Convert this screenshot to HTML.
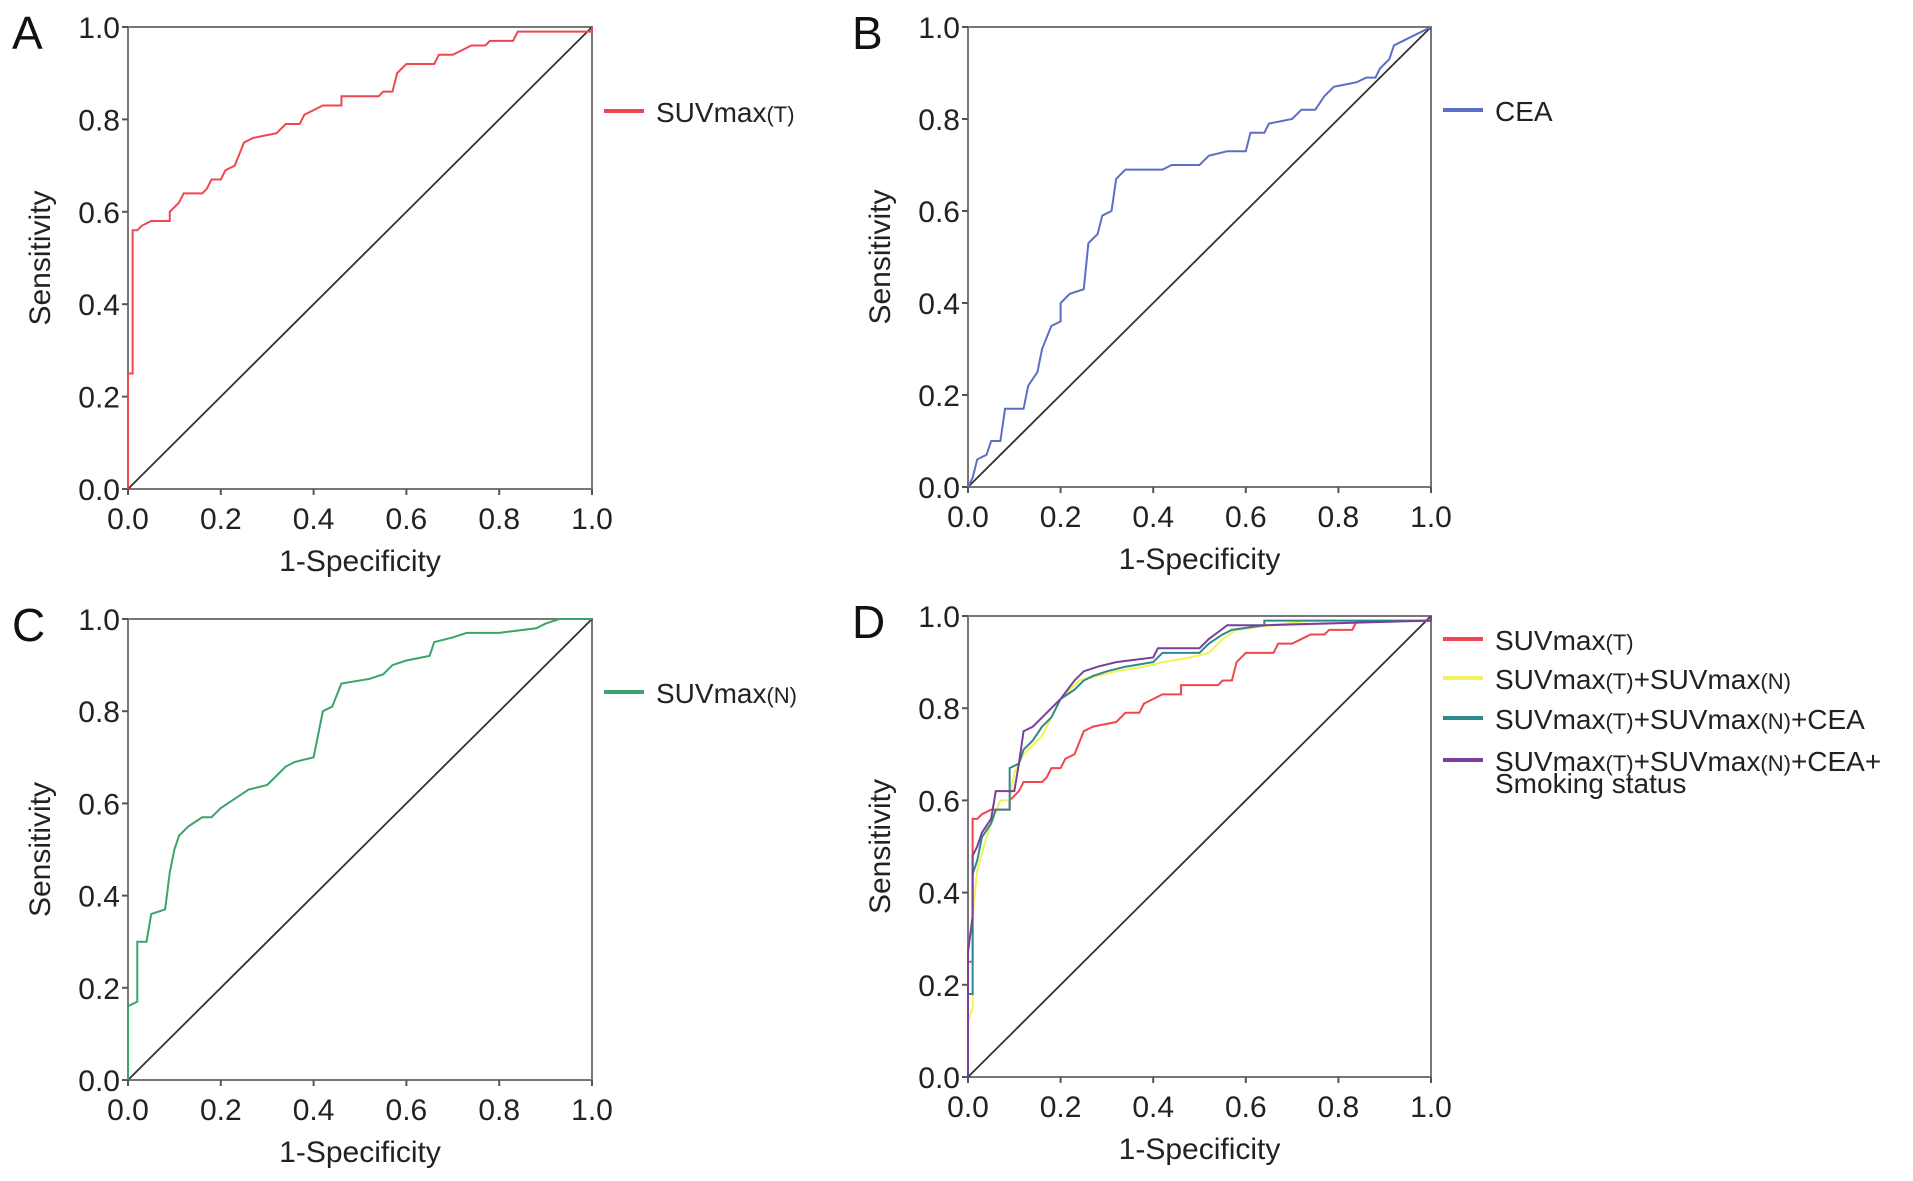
<!DOCTYPE html>
<html><head><meta charset="utf-8"><style>
html,body{margin:0;padding:0;background:#fff;}
svg{display:block;font-family:"Liberation Sans",sans-serif;}
</style></head><body>
<svg id="fig" width="1913" height="1181" viewBox="0 0 1913 1181"></svg>
<script>
const ticks=[0,0.2,0.4,0.6,0.8,1.0];
const tickLabels=["0.0","0.2","0.4","0.6","0.8","1.0"];
const rocSUVT=[[0,0],[0,0.25],[0.01,0.25],[0.01,0.56],[0.02,0.56],[0.03,0.57],[0.05,0.58],[0.09,0.58],[0.09,0.60],[0.10,0.61],[0.11,0.62],[0.12,0.64],[0.16,0.64],[0.17,0.65],[0.18,0.67],[0.20,0.67],[0.21,0.69],[0.23,0.70],[0.25,0.75],[0.27,0.76],[0.32,0.77],[0.34,0.79],[0.37,0.79],[0.38,0.81],[0.40,0.82],[0.42,0.83],[0.46,0.83],[0.46,0.85],[0.54,0.85],[0.55,0.86],[0.57,0.86],[0.58,0.90],[0.60,0.92],[0.66,0.92],[0.67,0.94],[0.70,0.94],[0.72,0.95],[0.74,0.96],[0.77,0.96],[0.78,0.97],[0.83,0.97],[0.84,0.99],[1,0.99],[1,1]];
const rocCEA=[[0,0],[0.01,0.02],[0.02,0.06],[0.04,0.07],[0.05,0.10],[0.07,0.10],[0.08,0.17],[0.12,0.17],[0.13,0.22],[0.15,0.25],[0.16,0.30],[0.18,0.35],[0.20,0.36],[0.20,0.40],[0.22,0.42],[0.25,0.43],[0.26,0.53],[0.28,0.55],[0.29,0.59],[0.31,0.60],[0.32,0.67],[0.34,0.69],[0.42,0.69],[0.44,0.70],[0.50,0.70],[0.52,0.72],[0.56,0.73],[0.60,0.73],[0.61,0.77],[0.64,0.77],[0.65,0.79],[0.70,0.80],[0.72,0.82],[0.75,0.82],[0.77,0.85],[0.79,0.87],[0.84,0.88],[0.86,0.89],[0.88,0.89],[0.89,0.91],[0.91,0.93],[0.92,0.96],[0.94,0.97],[0.96,0.98],[1,1]];
const rocSUVN=[[0,0],[0,0.16],[0.02,0.17],[0.02,0.30],[0.04,0.30],[0.05,0.36],[0.08,0.37],[0.09,0.45],[0.10,0.50],[0.11,0.53],[0.13,0.55],[0.16,0.57],[0.18,0.57],[0.20,0.59],[0.23,0.61],[0.26,0.63],[0.30,0.64],[0.32,0.66],[0.34,0.68],[0.36,0.69],[0.40,0.70],[0.42,0.80],[0.44,0.81],[0.46,0.86],[0.52,0.87],[0.55,0.88],[0.57,0.90],[0.60,0.91],[0.65,0.92],[0.66,0.95],[0.70,0.96],[0.73,0.97],[0.80,0.97],[0.88,0.98],[0.90,0.99],[0.93,1.0],[1,1]];
const rocTN=[[0,0],[0,0.12],[0.01,0.15],[0.01,0.35],[0.02,0.45],[0.04,0.52],[0.05,0.55],[0.07,0.60],[0.09,0.60],[0.10,0.66],[0.12,0.70],[0.14,0.72],[0.16,0.74],[0.18,0.78],[0.20,0.82],[0.22,0.84],[0.24,0.86],[0.28,0.87],[0.32,0.88],[0.38,0.89],[0.42,0.90],[0.48,0.91],[0.52,0.92],[0.55,0.95],[0.58,0.97],[0.66,0.98],[0.74,0.99],[1,0.99],[1,1]];
const rocTNC=[[0,0],[0,0.18],[0.01,0.18],[0.01,0.44],[0.02,0.47],[0.03,0.52],[0.05,0.55],[0.06,0.58],[0.09,0.58],[0.09,0.67],[0.11,0.68],[0.12,0.71],[0.14,0.73],[0.16,0.76],[0.18,0.78],[0.20,0.82],[0.23,0.84],[0.25,0.86],[0.27,0.87],[0.30,0.88],[0.34,0.89],[0.40,0.90],[0.42,0.92],[0.50,0.92],[0.52,0.94],[0.55,0.96],[0.57,0.97],[0.64,0.98],[0.64,0.99],[1,0.99],[1,1]];
const rocTNCS=[[0,0],[0,0.27],[0.01,0.35],[0.01,0.48],[0.02,0.50],[0.03,0.53],[0.05,0.56],[0.06,0.62],[0.10,0.62],[0.11,0.68],[0.12,0.75],[0.14,0.76],[0.16,0.78],[0.18,0.80],[0.20,0.82],[0.23,0.86],[0.25,0.88],[0.28,0.89],[0.32,0.90],[0.40,0.91],[0.41,0.93],[0.50,0.93],[0.52,0.95],[0.56,0.98],[0.64,0.98],[1,0.99],[1,1]];

const NS="http://www.w3.org/2000/svg";
const svg=document.getElementById('fig');
function mk(tag,attrs,parent){const e=document.createElementNS(NS,tag);for(const k in attrs)e.setAttribute(k,attrs[k]);(parent||svg).appendChild(e);return e;}

const panels=[
 {id:'a',letter:'A',L:128,R:592,T:27,B:489,series:[{d:rocSUVT,c:'#f0474f',n:'SUVmax',s:'(T)'}],legY:[122]},
 {id:'b',letter:'B',L:968,R:1431,T:27,B:487,series:[{d:rocCEA,c:'#5b6fc4',n:'CEA',s:''}],legY:[121]},
 {id:'c',letter:'C',L:128,R:592,T:619,B:1080,series:[{d:rocSUVN,c:'#3aa46a',n:'SUVmax',s:'(N)'}],legY:[703]},
 {id:'d',letter:'D',L:968,R:1431,T:616,B:1077,series:[
   {d:rocSUVT,c:'#f0474f',n:'SUVmax',s:'(T)'},
   {d:rocTN,c:'#f2f25a',parts:[['SUVmax',0],['(T)',1],['+SUVmax',0],['(N)',1]]},
   {d:rocTNC,c:'#2e8a8a',parts:[['SUVmax',0],['(T)',1],['+SUVmax',0],['(N)',1],['+CEA',0]]},
   {d:rocTNCS,c:'#7a3f9a',parts:[['SUVmax',0],['(T)',1],['+SUVmax',0],['(N)',1],['+CEA+',0]],extra:'Smoking status'}],
   legY:[650,689,729,771]}
];

panels.forEach(p=>{
  const g=mk('g',{});
  
  
  const sx=v=>p.L+v*(p.R-p.L), sy=v=>p.B-v*(p.B-p.T);
  const lt=mk('text',{x:p.L-116,y:p.T+22,'font-size':46,fill:'#111'},g);lt.textContent=p.letter;
  
  const fr=mk('rect',{x:p.L,y:p.T,width:p.R-p.L,height:p.B-p.T,fill:'none',stroke:'#777','stroke-width':2},g);
  
  ticks.forEach((t,i)=>{
    mk('line',{x1:sx(t),x2:sx(t),y1:p.B,y2:p.B+6,stroke:'#555','stroke-width':2},g);
    mk('line',{x1:p.L-6,x2:p.L,y1:sy(t),y2:sy(t),stroke:'#555','stroke-width':2},g);
    const xt=mk('text',{x:sx(t),y:p.B+40,'font-size':30,'text-anchor':'middle',fill:'#222'},g);xt.textContent=tickLabels[i];
    
    const yt=mk('text',{x:p.L-8,y:sy(t)+11,'font-size':30,'text-anchor':'end',fill:'#222'},g);yt.textContent=tickLabels[i];
    
  });
  const xl=mk('text',{x:(p.L+p.R)/2,y:p.B+82,'font-size':30,'text-anchor':'middle',fill:'#222'},g);xl.textContent='1-Specificity';
  
  const cy=(p.T+p.B)/2, ax=p.L-78;
  const yl=mk('text',{x:ax,y:cy,'font-size':30,'text-anchor':'middle',fill:'#222',transform:`rotate(-90 ${ax} ${cy})`},g);yl.textContent='Sensitivity';
  
  const dg=mk('line',{x1:sx(0),y1:sy(0),x2:sx(1),y2:sy(1),stroke:'#333','stroke-width':1.8},g);
  
  p.series.forEach((s,k)=>{
    const pl=mk('polyline',{points:s.d.map(q=>sx(q[0])+','+sy(q[1])).join(' '),fill:'none',stroke:s.c,'stroke-width':2},g);
    
    const ly=p.legY[k], lx=p.R+12;
    const ll=mk('line',{x1:lx,x2:lx+40,y1:ly-11,y2:ly-11,stroke:s.c,'stroke-width':4},g);
    
    const tx=mk('text',{x:lx+52,y:ly,'font-size':28,fill:'#222'},g);
    
    const parts=s.parts||[[s.n,0],[s.s,1]];
    parts.forEach(pp=>{if(!pp[0])return;const ts=mk('tspan',{'font-size':pp[1]?22:28},tx);ts.textContent=pp[0];});
    if(s.extra){const t2=mk('text',{x:lx+52,y:ly+22,'font-size':28,fill:'#222'},g);t2.textContent=s.extra;
      }
  });
});
</script>
</body></html>
